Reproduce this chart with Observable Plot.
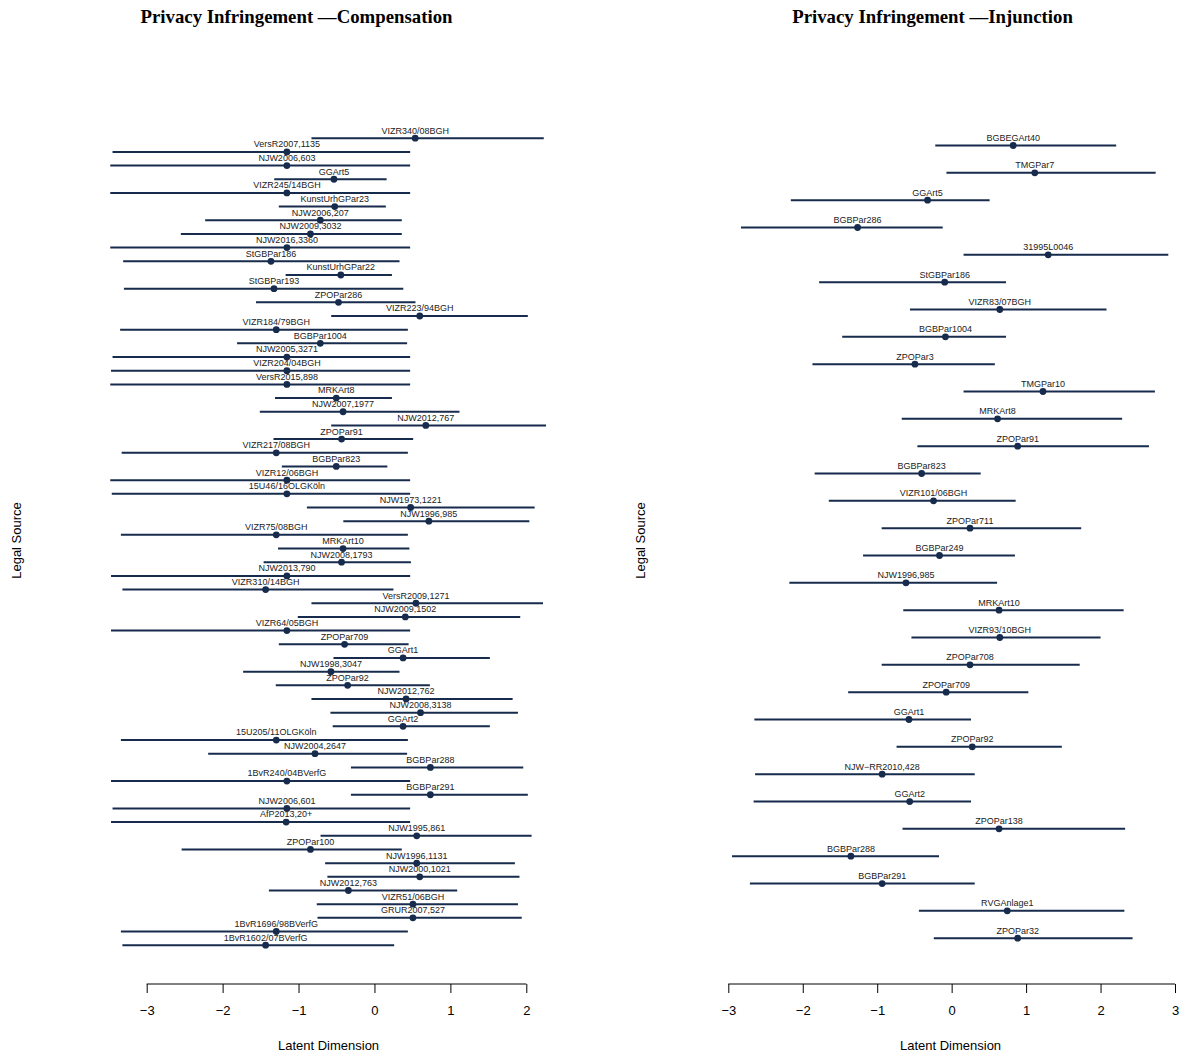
<!DOCTYPE html>
<html>
<head>
<meta charset="utf-8">
<script src="https://cdn.jsdelivr.net/npm/d3@7"></script>
<script src="https://cdn.jsdelivr.net/npm/@observablehq/plot@0.6"></script>
<style>
  body { margin: 0; background: #fff; }
  #wrap { display: flex; width: 1183px; }
  #wrap svg { display: block; }
</style>
</head>
<body>
<div id="wrap"></div>
<script>
// ---- Compensation: latent position (point) and interval (lo–hi) per legal source ----
const compNames = ["VIZR340/08BGH","VersR2007,1135","NJW2006,603","GGArt5","VIZR245/14BGH","KunstUrhGPar23","NJW2006,207","NJW2009,3032","NJW2016,3360","StGBPar186","KunstUrhGPar22","StGBPar193","ZPOPar286","VIZR223/94BGH","VIZR184/79BGH","BGBPar1004","NJW2005,3271","VIZR204/04BGH","VersR2015,898","MRKArt8","NJW2007,1977","NJW2012,767","ZPOPar91","VIZR217/08BGH","BGBPar823","VIZR12/06BGH","15U46/16OLGKöln","NJW1973,1221","NJW1996,985","VIZR75/08BGH","MRKArt10","NJW2008,1793","NJW2013,790","VIZR310/14BGH","VersR2009,1271","NJW2009,1502","VIZR64/05BGH","ZPOPar709","GGArt1","NJW1998,3047","ZPOPar92","NJW2012,762","NJW2008,3138","GGArt2","15U205/11OLGKöln","NJW2004,2647","BGBPar288","1BvR240/04BVerfG","BGBPar291","NJW2006,601","AfP2013,20+","NJW1995,861","ZPOPar100","NJW1996,1131","NJW2000,1021","NJW2012,763","VIZR51/06BGH","GRUR2007,527","1BvR1696/98BVerfG","1BvR1602/07BVerfG"];
const compEst = [0.53,-1.16,-1.16,-0.54,-1.16,-0.53,-0.72,-0.85,-1.16,-1.37,-0.45,-1.33,-0.48,0.59,-1.30,-0.72,-1.16,-1.16,-1.16,-0.51,-0.42,0.67,-0.44,-1.30,-0.51,-1.16,-1.16,0.47,0.71,-1.30,-0.42,-0.44,-1.16,-1.44,0.54,0.40,-1.16,-0.40,0.37,-0.58,-0.36,0.41,0.60,0.37,-1.30,-0.79,0.73,-1.16,0.73,-1.16,-1.17,0.55,-0.85,0.55,0.59,-0.35,0.50,0.50,-1.30,-1.44];
const compLo = [-0.83,-3.45,-3.48,-1.32,-3.48,-1.26,-2.23,-2.55,-3.48,-3.31,-1.17,-3.30,-1.56,-0.57,-3.35,-1.81,-3.45,-3.47,-3.48,-1.31,-1.51,-0.57,-1.33,-3.33,-1.22,-3.48,-3.46,-0.89,-0.41,-3.34,-1.27,-1.46,-3.47,-3.32,-0.83,-1.01,-3.47,-1.26,-0.54,-1.73,-1.30,-0.83,-0.58,-0.55,-3.34,-2.19,-0.31,-3.47,-0.31,-3.45,-3.47,-0.71,-2.54,-0.65,-0.62,-1.39,-0.76,-0.75,-3.34,-3.32];
const compHi = [2.23,0.47,0.47,0.16,0.47,0.15,0.36,0.36,0.47,0.33,0.23,0.38,0.54,2.02,0.44,0.43,0.47,0.47,0.47,0.23,1.12,2.26,0.51,0.44,0.17,0.47,0.47,2.11,2.04,0.44,0.46,0.48,0.47,0.25,2.22,1.92,0.47,0.45,1.52,0.33,0.73,1.82,1.89,1.52,0.44,0.43,1.96,0.47,2.02,0.47,0.47,2.07,0.36,1.85,1.91,1.09,1.89,1.94,0.44,0.26];
const compTicks = [-3, -2, -1, 0, 1, 2];

// ---- Injunction ----
const injNames = ["BGBEGArt40","TMGPar7","GGArt5","BGBPar286","31995L0046","StGBPar186","VIZR83/07BGH","BGBPar1004","ZPOPar3","TMGPar10","MRKArt8","ZPOPar91","BGBPar823","VIZR101/06BGH","ZPOPar711","BGBPar249","NJW1996,985","MRKArt10","VIZR93/10BGH","ZPOPar708","ZPOPar709","GGArt1","ZPOPar92","NJW\u2212RR2010,428","GGArt2","ZPOPar138","BGBPar288","BGBPar291","RVGAnlage1","ZPOPar32"];
const injEst = [0.82,1.11,-0.33,-1.27,1.29,-0.10,0.64,-0.09,-0.50,1.22,0.61,0.88,-0.41,-0.25,0.24,-0.17,-0.62,0.63,0.64,0.24,-0.08,-0.58,0.27,-0.94,-0.57,0.63,-1.36,-0.94,0.74,0.88];
const injLo = [-0.22,-0.07,-2.16,-2.83,0.16,-1.78,-0.56,-1.47,-1.87,0.16,-0.67,-0.46,-1.84,-1.65,-0.94,-1.19,-2.18,-0.65,-0.54,-0.94,-1.39,-2.65,-0.74,-2.64,-2.66,-0.66,-2.95,-2.71,-0.44,-0.24];
const injHi = [2.21,2.74,0.51,-0.12,2.91,0.73,2.08,0.73,0.58,2.73,2.29,2.65,0.39,0.86,1.74,0.85,0.61,2.31,2.00,1.72,1.03,0.26,1.48,0.31,0.26,2.33,-0.17,0.31,2.32,2.43];
const injTicks = [-3, -2, -1, 0, 1, 2, 3];

const NAVY = "#172b4d";
const SANS = "'Liberation Sans', Arial, Helvetica, sans-serif";
const SERIF = "'Liberation Serif', 'Times New Roman', serif";
const intFormat = d => (d < 0 ? "\u2212" : "") + Math.abs(d);

function panel(o) {
  const rows = o.names.map((name, i) => ({name, est: o.est[i], lo: o.lo[i], hi: o.hi[i]}));
  const H = 1057, MT = 96, MB = 73;
  const chart = Plot.plot({
    width: o.width,
    height: H,
    marginTop: MT,
    marginBottom: MB,
    marginLeft: o.marginLeft,
    marginRight: o.marginRight,
    style: {fontFamily: SANS, background: "white", color: "#000", overflow: "visible"},
    x: {domain: [o.ticks[0], o.ticks[o.ticks.length - 1]], range: o.xRange},
    y: {type: "point", domain: o.names, range: o.yRange, padding: 0, round: false, axis: null},
    marks: [
      Plot.ruleY(rows, {y: "name", x1: "lo", x2: "hi", stroke: NAVY, strokeWidth: 2}),
      Plot.dot(rows, {x: "est", y: "name", r: 3.4, fill: NAVY, stroke: "none"}),
      Plot.text(rows, {x: "est", y: "name", text: "name", dy: -7.5, fontSize: 9, fill: "#222"}),
      Plot.axisX({ticks: o.ticks, tickFormat: intFormat, tickSize: 9, tickPadding: 12, fontSize: 13, label: null}),
      Plot.text([o.title], {frameAnchor: "top", dy: -87, dx: o.titleDx, fontSize: 18.8, fontWeight: "bold", fontFamily: SERIF, fill: "#000"}),
      Plot.text(["Latent Dimension"], {frameAnchor: "bottom", dy: 65.5, fontSize: 13, fill: "#000"}),
      Plot.text(["Legal Source"], {frameAnchor: "left", textAnchor: "middle", dx: o.ylabDx, rotate: -90, fontSize: 13, fill: "#000"})
    ]
  });
  // axis baseline from the first to the last tick
  const sx = chart.scale("x");
  d3.select(chart).append("line")
    .attr("x1", sx.apply(o.ticks[0])).attr("x2", sx.apply(o.ticks[o.ticks.length - 1]))
    .attr("y1", H - MB).attr("y2", H - MB)
    .attr("stroke", "#000").attr("stroke-width", 1);
  return chart;
}

const wrap = document.getElementById("wrap");
wrap.append(panel({
  title: "Privacy Infringement \u2014Compensation",
  names: compNames, est: compEst, lo: compLo, hi: compHi, ticks: compTicks,
  width: 591, marginLeft: 92.7, marginRight: 27.7,
  xRange: [146.7, 526.3], yRange: [137.7, 944.7],
  titleDx: -32, ylabDx: -76.7
}));
wrap.append(panel({
  title: "Privacy Infringement \u2014Injunction",
  names: injNames, est: injEst, lo: injLo, hi: injHi, ticks: injTicks,
  width: 592, marginLeft: 128, marginRight: 2,
  xRange: [137.3, 584], yRange: [145, 937.7],
  titleDx: -18, ylabDx: -79
}));
</script>
</body>
</html>
